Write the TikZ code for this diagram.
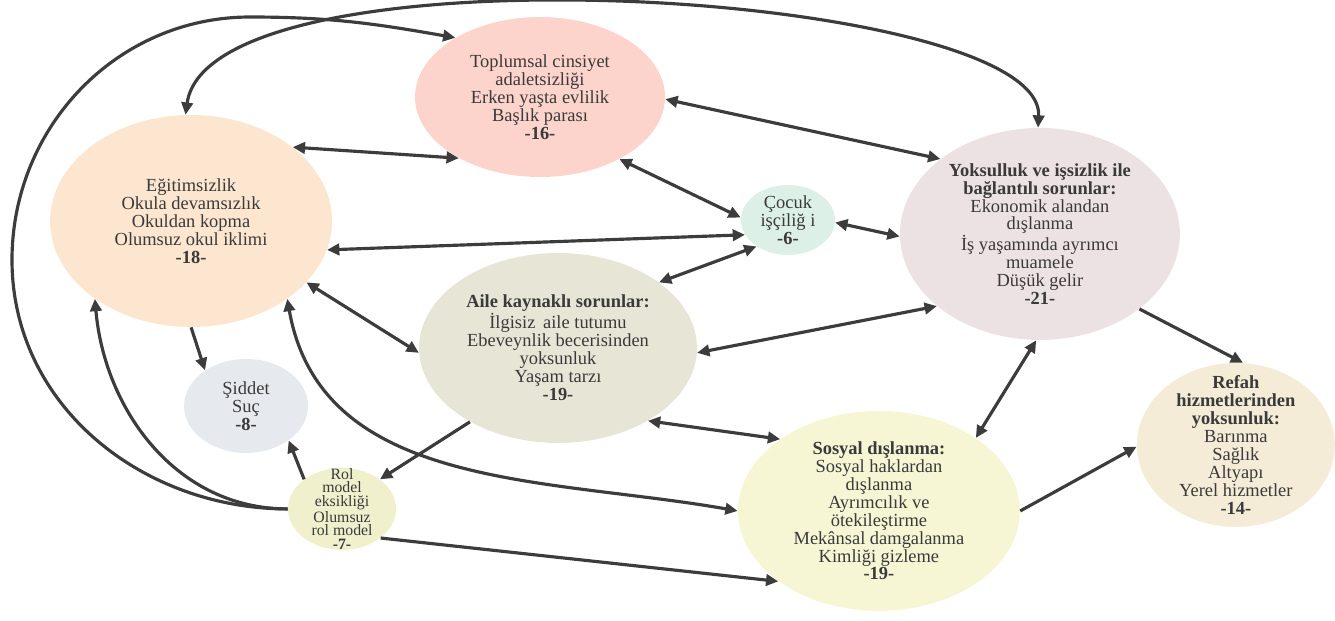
\documentclass[tikz,border=0pt]{standalone}
\usepackage{fontspec}
\setmainfont{Liberation Serif}
\usepackage{tikz}
\usetikzlibrary{
  positioning, arrows.meta,
  shapes.geometric
}
\definecolor{cgender}{HTML}{FDD4CC}
\definecolor{cedu}{HTML}{FDE6D0}
\definecolor{cchild}{HTML}{DDF0E7}
\definecolor{cpov}{HTML}{EDE2E3}
\definecolor{cfam}{HTML}{E7E6D6}
\definecolor{cviol}{HTML}{E6EAEF}
\definecolor{crole}{HTML}{F0F0CC}
\definecolor{csoc}{HTML}{F7F6D4}
\definecolor{cwelf}{HTML}{F5ECD8}
\definecolor{arrgray}{HTML}{3C3C3C}
\definecolor{txtgray}{HTML}{3A3A3A}

\begin{document}
\begin{tikzpicture}[x=0.02cm,y=0.02cm,on grid,
    >={Triangle[length=7pt,width=6.5pt]},
    issue/.style={ellipse,draw=none,inner sep=-1cm,align=center,text=txtgray,
      font=\fontsize{10.5}{10.2}\selectfont},
    conn/.style={<->,line width=1.8pt,draw=arrgray},
    one/.style={->,line width=1.8pt,draw=arrgray}]
    \useasboundingbox (0,0) rectangle (1335,-620);

    \node[issue,fill=cgender,minimum width=5cm,minimum height=3.2cm] (gender) at (540,-97)
      {Toplumsal cinsiyet\\adaletsizliği\\Erken yaşta evlilik\\Başlık parası\\\textbf{-16-}};
    \node[issue,fill=cedu,minimum width=5.64cm,minimum height=4.24cm] (edu)
      [below left=2.48cm and 6.98cm of gender]
      {Eğitimsizlik\\Okula devamsızlık\\Okuldan kopma\\Olumsuz okul iklimi\\\textbf{-18-}};
    \node[issue,fill=cchild,minimum width=1.88cm,minimum height=1.4cm] (child)
      [below right=2.46cm and 4.96cm of gender]
      {Çocuk\\işçiliğ i\\\textbf{-6-}};
    \node[issue,fill=cpov,minimum width=5.6cm,minimum height=4.24cm] (poverty)
      [below right=2.74cm and 10cm of gender]
      {\textbf{Yoksulluk ve işsizlik ile}\\\textbf{bağlantılı sorunlar:}\\Ekonomik alandan\\dışlanma\\İş yaşamında ayrımcı\\muamele\\Düşük gelir\\\textbf{-21-}};
    \node[issue,fill=cfam,minimum width=5.56cm,minimum height=3.8cm] (family)
      [below right=5.02cm and 0.36cm of gender]
      {\textbf{Aile kaynaklı sorunlar:}\\İlgisiz\, aile tutumu\\Ebeveynlik becerisinden\\yoksunluk\\Yaşam tarzı\\\textbf{-19-}};
    \node[issue,fill=cviol,minimum width=2.48cm,minimum height=1.88cm] (violence)
      [below right=3.7cm and 1.1cm of edu]
      {Şiddet\\Suç\\\textbf{-8-}};
    \node[issue,fill=crole,minimum width=2.16cm,minimum height=1.64cm,
      font=\fontsize{9}{7.6}\selectfont] (role)
      [below right=2.06cm and 1.92cm of violence]
      {Rol\\model\\eksikliği\\Olumsuz\\rol model\\\textbf{-7-}};
    \node[issue,fill=csoc,minimum width=5.64cm,minimum height=4cm] (social)
      [below left=5.54cm and 3.22cm of poverty]
      {\textbf{Sosyal dışlanma:}\\Sosyal haklardan\\dışlanma\\Ayrımcılık ve\\ötekileştirme\\Mekânsal damgalanma\\Kimliği gizleme\\\textbf{-19-}};
    \node[issue,fill=cwelf,minimum width=3.96cm,minimum height=3.28cm] (welfare)
      [below right=4.22cm and 3.92cm of poverty]
      {\textbf{Refah}\\\textbf{hizmetlerinden}\\\textbf{yoksunluk:}\\Barınma\\Sağlık\\Altyapı\\Yerel hizmetler\\\textbf{-14-}};

    \draw[conn] (edu.36) -- (gender.217);
    \draw[conn] (gender.-1) -- (poverty.143);
    \draw[conn] (gender.-38) -- (child.177);
    \draw[conn] (edu.-12) -- (child.199);
    \draw[conn] (child.-3) -- (poverty.181);
    \draw[conn] (family.33) -- (child.220);
    \draw[conn] (edu.-28) -- (family.182);
    \draw[conn] (family.-2) -- (poverty.215);
    \draw[conn] (family.-39) -- (social.144);
    \draw[conn] (poverty.268) -- (social.37);
    \draw[one] (poverty.-37) -- (welfare.85);
    \draw[one] (social.0) -- (welfare.181);
    \draw[one] (edu.-90) -- (violence.139);
    \draw[one] (role.142) -- (violence.-39);
    \draw[one] (family.220) -- (role.38);
    \draw[one] (role.-37) -- (social.215);

    \draw[conn] (edu.93) .. controls (210,60) and (1045,10) .. (poverty.91);
    \draw[conn] (edu.-39) to[out=-80,in=170] (social.180);
    \draw[one] (role.180) to[out=180,in=-85] (edu.219);
    \draw[one] (role.180) to[out=180,in=-90] (12,-260)
      to[out=90,in=180] (250,-17) to[out=0,in=170] (gender.145);
\end{tikzpicture}
\end{document}
